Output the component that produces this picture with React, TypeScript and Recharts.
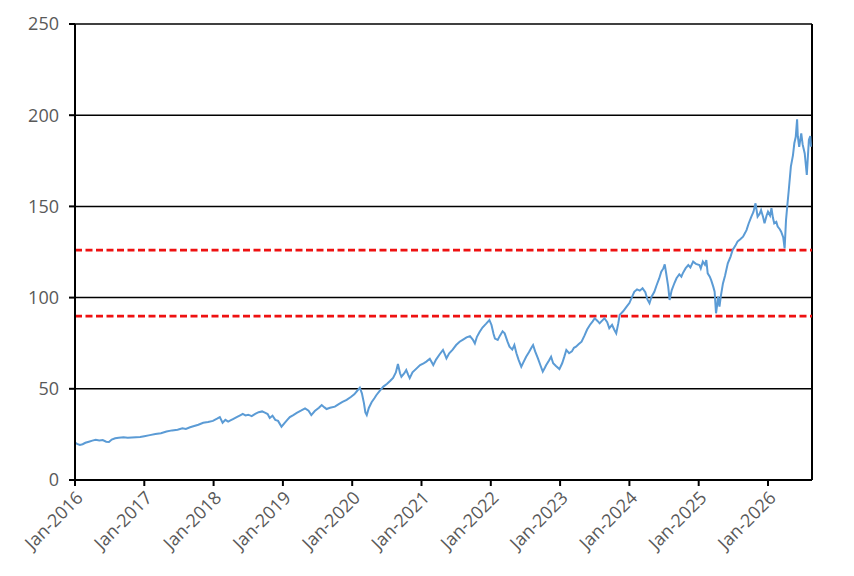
import React from 'react';
import { LineChart, Line, XAxis, YAxis, CartesianGrid, ReferenceLine } from 'recharts';

// time in fractional years
const dates: number[] = [
  2016.00, 2016.03, 2016.07, 2016.11, 2016.15, 2016.20, 2016.25, 2016.30, 2016.35, 2016.40,
  2016.45, 2016.49, 2016.53, 2016.58, 2016.63, 2016.70, 2016.76, 2016.82, 2016.88, 2016.94,
  2017.00, 2017.08, 2017.16, 2017.24, 2017.32, 2017.40, 2017.48, 2017.55, 2017.60, 2017.66,
  2017.72, 2017.78, 2017.85, 2017.92, 2017.99, 2018.05, 2018.09, 2018.13, 2018.17, 2018.21,
  2018.25, 2018.28, 2018.34, 2018.39, 2018.42, 2018.46, 2018.50, 2018.55, 2018.60, 2018.65,
  2018.70, 2018.74, 2018.78, 2018.81, 2018.85, 2018.89, 2018.93, 2018.98, 2019.02, 2019.06,
  2019.10, 2019.15, 2019.20, 2019.26, 2019.32, 2019.37, 2019.41, 2019.46, 2019.52, 2019.56,
  2019.60, 2019.63, 2019.68, 2019.75, 2019.80, 2019.86, 2019.92, 2019.98, 2020.03, 2020.07,
  2020.11, 2020.14, 2020.17, 2020.19, 2020.21, 2020.24, 2020.28, 2020.32, 2020.35, 2020.40,
  2020.45, 2020.50, 2020.55, 2020.59, 2020.63, 2020.66, 2020.69, 2020.71, 2020.75, 2020.78,
  2020.81, 2020.83, 2020.87, 2020.93, 2020.98, 2021.03, 2021.07, 2021.12, 2021.17, 2021.21,
  2021.26, 2021.31, 2021.34, 2021.36, 2021.40, 2021.45, 2021.50, 2021.55, 2021.60, 2021.65,
  2021.70, 2021.74, 2021.77, 2021.80, 2021.84, 2021.88, 2021.93, 2021.98, 2022.01, 2022.04,
  2022.06, 2022.10, 2022.13, 2022.17, 2022.20, 2022.24, 2022.27, 2022.31, 2022.34, 2022.37,
  2022.40, 2022.44, 2022.47, 2022.51, 2022.55, 2022.59, 2022.61, 2022.64, 2022.68, 2022.72,
  2022.75, 2022.78, 2022.80, 2022.84, 2022.87, 2022.90, 2022.94, 2022.99, 2023.03, 2023.06,
  2023.09, 2023.13, 2023.17, 2023.20, 2023.23, 2023.27, 2023.31, 2023.35, 2023.39, 2023.43,
  2023.47, 2023.50, 2023.54, 2023.57, 2023.61, 2023.64, 2023.68, 2023.71, 2023.75, 2023.78,
  2023.81, 2023.84, 2023.86, 2023.91, 2023.96, 2024.00, 2024.04, 2024.07, 2024.11, 2024.15,
  2024.19, 2024.23, 2024.26, 2024.29, 2024.32, 2024.36, 2024.39, 2024.43, 2024.46, 2024.49,
  2024.51, 2024.53, 2024.56, 2024.58, 2024.61, 2024.65, 2024.68, 2024.72, 2024.75, 2024.77,
  2024.81, 2024.85, 2024.88, 2024.92, 2024.96, 2025.01, 2025.03, 2025.06, 2025.09, 2025.11,
  2025.13, 2025.16, 2025.18, 2025.21, 2025.23, 2025.25, 2025.27, 2025.28, 2025.30, 2025.32,
  2025.35, 2025.38, 2025.42, 2025.46, 2025.49, 2025.53, 2025.56, 2025.60, 2025.64, 2025.67,
  2025.69, 2025.72, 2025.76, 2025.79, 2025.82, 2025.85, 2025.88, 2025.90, 2025.93, 2025.95,
  2025.98, 2026.00, 2026.03, 2026.05, 2026.07, 2026.09, 2026.12, 2026.14, 2026.17, 2026.19,
  2026.22, 2026.24, 2026.26, 2026.28, 2026.30, 2026.33, 2026.36, 2026.38, 2026.40, 2026.42,
  2026.43, 2026.45, 2026.48, 2026.50, 2026.53, 2026.56, 2026.58, 2026.59, 2026.61, 2026.62,
];

const prices: number[] = [
  20.5, 19.8, 19.2, 19.6, 20.4, 21.0, 21.6, 22.0, 21.7, 21.9,
  21.0, 20.8, 22.2, 22.9, 23.2, 23.4, 23.1, 23.3, 23.5, 23.6,
  24.0, 24.6, 25.2, 25.6, 26.6, 27.2, 27.6, 28.4, 28.0, 28.9,
  29.6, 30.3, 31.4, 31.8, 32.4, 33.6, 34.5, 31.4, 33.0, 32.0,
  32.8, 33.4, 34.6, 35.6, 36.2, 35.4, 35.8, 35.0, 36.2, 37.2,
  37.6, 36.9, 36.2, 34.0, 35.2, 33.0, 32.4, 29.2, 31.0, 32.8,
  34.5, 35.6, 36.8, 38.0, 39.3, 38.0, 35.6, 37.8, 39.6, 41.1,
  39.8, 38.9, 39.6, 40.2, 41.5, 42.8, 43.9, 45.5, 47.0, 48.8,
  50.6, 47.5, 42.0, 37.0, 35.6, 39.5, 42.6, 44.8, 46.6, 49.0,
  51.2, 52.6, 54.4, 56.0, 59.0, 63.6, 58.5, 56.6, 58.4, 60.3,
  57.5, 55.8, 59.0, 61.2, 63.0, 64.0, 64.9, 66.5, 63.0, 66.0,
  68.8, 71.3, 68.6, 66.7, 69.5, 71.5, 74.0, 75.8, 77.0, 78.2,
  78.9, 77.0, 74.9, 78.5, 81.3, 83.6, 85.6, 87.7, 85.0, 80.0,
  77.5, 76.8, 79.0, 81.5, 80.4, 76.0, 73.1, 71.5, 74.0, 69.5,
  66.0, 62.1, 64.5, 67.6, 70.0, 72.8, 74.0, 70.5, 66.7, 62.5,
  59.4, 61.5, 63.0, 65.5, 67.6, 64.0, 62.5, 60.8, 64.0, 67.5,
  71.3, 69.5, 70.5, 72.5, 73.1, 74.5, 75.8, 79.0, 82.5, 85.0,
  87.0, 88.7, 87.2, 85.9, 87.5, 88.7, 86.5, 83.2, 85.0, 82.5,
  80.4, 86.0, 90.5, 92.5, 95.0, 97.0, 100.5, 103.2, 104.5, 103.8,
  105.1, 103.0, 99.0, 96.9, 100.5, 103.2, 106.5, 110.5, 114.2, 116.0,
  118.2, 113.5, 106.0, 98.7, 104.0, 108.0, 110.6, 112.8, 111.5, 113.3,
  116.0, 117.8, 116.5, 119.7, 118.5, 117.9, 116.0, 119.7, 118.0, 120.6,
  113.3, 111.5, 109.6, 106.0, 103.2, 91.4, 97.0, 100.5, 95.0, 101.0,
  107.8, 112.0, 118.8, 122.5, 126.1, 128.5, 130.7, 132.0, 133.4, 135.5,
  137.0, 140.5, 144.4, 147.0, 151.7, 144.4, 146.0, 148.0, 144.0, 140.7,
  145.0, 147.1, 145.0, 149.0, 144.0, 140.7, 141.5, 138.9, 137.5, 136.1,
  133.0, 127.0, 142.5, 151.0, 159.0, 171.8, 178.0, 184.6, 188.0, 197.7,
  188.5, 182.7, 190.0, 184.0, 179.0, 167.2, 180.0, 186.4, 188.5, 182.7,
];

const yearTicks: number[] = [2016, 2017, 2018, 2019, 2020, 2021, 2022, 2023, 2024, 2025, 2026];
const valueTicks: number[] = [0, 50, 100, 150, 200, 250];
const upperBand = 126;
const lowerBand = 89.8;
const endOfRange = 2026.635;

const data = dates.map((t, i) => ({ t, price: prices[i] }));

const labelStyle = { fontFamily: '"Open Sans", sans-serif', fontSize: 18, fill: '#595959' };

export default function App() {
  return (
    <div style={{ width: 846, height: 560 }}>
      <LineChart width={846} height={560} data={data} margin={{ top: 16, right: 42, bottom: 8, left: 7 }}>
        <CartesianGrid vertical={false} stroke="#000" strokeWidth={1.5} />
        <XAxis
          dataKey="t"
          type="number"
          domain={[2016, endOfRange]}
          ticks={yearTicks}
          tickFormatter={(v: number) => `Jan-${v}`}
          allowDataOverflow
          height={80}
          angle={-45}
          textAnchor="end"
          tick={labelStyle}
          tickSize={6}
          tickMargin={4}
          axisLine={{ stroke: '#000', strokeWidth: 2 }}
          tickLine={{ stroke: '#000', strokeWidth: 2 }}
        />
        <YAxis
          type="number"
          domain={[0, 250]}
          ticks={valueTicks}
          width={60}
          tick={labelStyle}
          tickSize={6}
          tickMargin={10}
          axisLine={{ stroke: '#000', strokeWidth: 2 }}
          tickLine={{ stroke: '#000', strokeWidth: 2 }}
        />
        <ReferenceLine x={endOfRange} stroke="#000" strokeWidth={2} />
        <ReferenceLine y={upperBand} stroke="#ee1111" strokeWidth={2.75} strokeDasharray="7 3.5" />
        <ReferenceLine y={lowerBand} stroke="#ee1111" strokeWidth={2.75} strokeDasharray="7 3.5" />
        <Line
          type="linear"
          dataKey="price"
          stroke="#5b9bd5"
          strokeWidth={2}
          dot={false}
          isAnimationActive={false}
        />
      </LineChart>
    </div>
  );
}
